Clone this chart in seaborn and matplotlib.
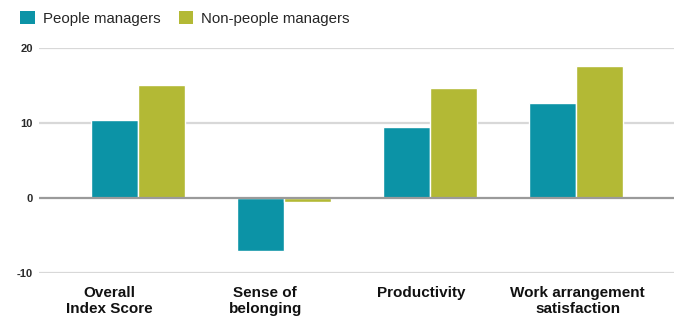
import matplotlib
matplotlib.use("Agg")
import matplotlib.pyplot as plt
import seaborn as sns
import pandas as pd
from matplotlib.patches import Patch

categories = ["Overall\nIndex Score", "Sense of\nbelonging", "Productivity", "Work arrangement\nsatisfaction"]
series = ["People managers", "Non-people managers"]
people_managers = [10.4, -7.0, 9.4, 12.7]
non_people_managers = [15.1, -0.6, 14.7, 17.6]
yticks = [-10, 0, 10, 20]

colors = ["#0C93A6", "#B3B935"]

df = pd.DataFrame({
    "category": categories * 2,
    "group": [series[0]] * 4 + [series[1]] * 4,
    "value": people_managers + non_people_managers,
})

sns.set_theme(style="white")
plt.rcParams["font.family"] = ["Liberation Sans", "DejaVu Sans"]

fig = plt.figure(figsize=(7.0, 3.28), dpi=100)
ax = fig.add_axes([39 / 700, 1 - 273 / 328, (674 - 39) / 700, (273 - 48) / 328])

sns.barplot(data=df, x="category", y="value", hue="group", palette=colors,
            width=0.645, edgecolor="white", linewidth=1.0, saturation=1,
            legend=False, ax=ax)

ax.set_ylim(-10, 20)
ax.set_xlim(-0.68, 3.67)
ax.set_yticks(yticks)
ax.set_yticklabels([str(t) for t in yticks], fontsize=8, fontweight="bold", color="#2a2a2a")
ax.tick_params(axis="y", length=0, pad=4.5)

# category labels sit on a slightly wider, left-shifted grid than the bar groups
label_pos = [i * 1.07 - 0.2 for i in range(len(categories))]
ax.set_xticks(label_pos)
ax.set_xticklabels(categories, fontsize=11, fontweight="bold", color="#111111",
                   linespacing=1.2)
ax.tick_params(axis="x", length=0, pad=9.5)
ax.set_xlabel("")
ax.set_ylabel("")

for y in yticks:
    if y == 0:
        ax.axhline(y, color="#9A9A9A", lw=1.6, zorder=3)
    else:
        ax.axhline(y, color="#D8D8D8", lw=1.6, zorder=0)
for s in ax.spines.values():
    s.set_visible(False)

handles = [Patch(facecolor=c, edgecolor="none") for c in colors]
fig.legend(handles, series, loc="upper left", bbox_to_anchor=(0.012, 1.002),
           ncol=2, frameon=False, fontsize=10.8, handlelength=0.95, handleheight=0.95,
           handletextpad=0.55, columnspacing=1.2, borderpad=0.3)

fig.savefig("out.png", dpi=100, facecolor="white")
